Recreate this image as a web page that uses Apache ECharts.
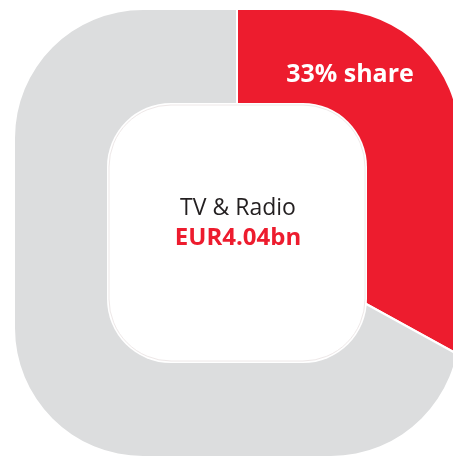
<!DOCTYPE html>
<html>
<head>
<meta charset="utf-8">
<title>TV & Radio share</title>
<script src="https://cdn.jsdelivr.net/npm/echarts@6/dist/echarts.min.js"></script>
<style>
html, body { margin: 0; padding: 0; background: #fff; }
#main { width: 453px; height: 457px; }
</style>
</head>
<body>
<div id="main"></div>
<script>
// 数据
var names = ['TV & Radio', 'Other'];
var shares = [33, 67];
var colors = ['#ED1C2E', '#DCDDDE'];
var segmentName = 'TV & Radio';
var revenue = 'EUR4.04bn';

var myChart = echarts.init(document.getElementById('main'));

// 圆角方形的中心、半宽和圆角
var cx = 237, cy = 233;
var outHalf = 222, rOut = 128;
var inHalf = 130, rIn = 64;

// 逆时针圆角矩形路径（做遮罩的洞）
function roundRectCCW(x0, y0, x1, y1, r) {
	return 'M' + (x0 + r) + ' ' + y0 +
		' A' + r + ' ' + r + ' 0 0 0 ' + x0 + ' ' + (y0 + r) +
		' L' + x0 + ' ' + (y1 - r) +
		' A' + r + ' ' + r + ' 0 0 0 ' + (x0 + r) + ' ' + y1 +
		' L' + (x1 - r) + ' ' + y1 +
		' A' + r + ' ' + r + ' 0 0 0 ' + x1 + ' ' + (y1 - r) +
		' L' + x1 + ' ' + (y0 + r) +
		' A' + r + ' ' + r + ' 0 0 0 ' + (x1 - r) + ' ' + y0 + ' Z';
}

var maskPath = 'M-20 -20 L480 -20 L480 480 L-20 480 Z ' +
	roundRectCCW(cx - outHalf, cy - outHalf - 1, cx + outHalf, cy + outHalf + 1, rOut);

var pieData = names.map(function (n, i) {
	return { name: n, value: shares[i], itemStyle: { color: colors[i] } };
});

var option = {
	animation: false,
	series: [
		{
			type: 'pie',
			center: [cx, cy],
			radius: [0, 340],
			startAngle: 90,
			clockwise: true,
			silent: true,
			label: { show: false },
			labelLine: { show: false },
			itemStyle: {
				borderColor: '#fff',
				borderWidth: 2
			},
			data: pieData
		},
		{ // 外面的白色遮罩
			type: 'custom',
			coordinateSystem: 'none',
			silent: true,
			z: 10,
			data: [0],
			renderItem: function () {
				return {
					type: 'path',
					shape: { pathData: maskPath },
					style: { fill: '#fff' }
				};
			}
		}
	],
	graphic: [
		{ // 中间的洞
			type: 'rect',
			z: 101,
			silent: true,
			shape: { x: cx - inHalf, y: cy - inHalf, width: inHalf * 2, height: inHalf * 2, r: rIn },
			style: { fill: '#fff' }
		},
		{
			type: 'rect',
			z: 102,
			silent: true,
			shape: { x: cx - inHalf + 2, y: cy - inHalf + 2, width: inHalf * 2 - 4, height: inHalf * 2 - 4, r: rIn - 2 },
			style: { fill: 'none', stroke: '#eee8e8', lineWidth: 1 }
		},
		{
			type: 'text',
			z: 103,
			silent: true,
			style: {
				text: shares[0] + '% share',
				x: 350, y: 75,
				textAlign: 'center', textVerticalAlign: 'middle',
				fill: '#fff',
				font: 'bold 25px "Open Sans"'
			}
		},
		{
			type: 'text',
			z: 103,
			silent: true,
			style: {
				text: segmentName,
				x: 238, y: 208,
				textAlign: 'center', textVerticalAlign: 'middle',
				fill: '#231F20',
				font: '23px "Open Sans"'
			}
		},
		{
			type: 'text',
			z: 103,
			silent: true,
			style: {
				text: revenue,
				x: 238, y: 238,
				textAlign: 'center', textVerticalAlign: 'middle',
				fill: colors[0],
				font: 'bold 24px "Open Sans"'
			}
		}
	]
};

myChart.setOption(option);
</script>
</body>
</html>
